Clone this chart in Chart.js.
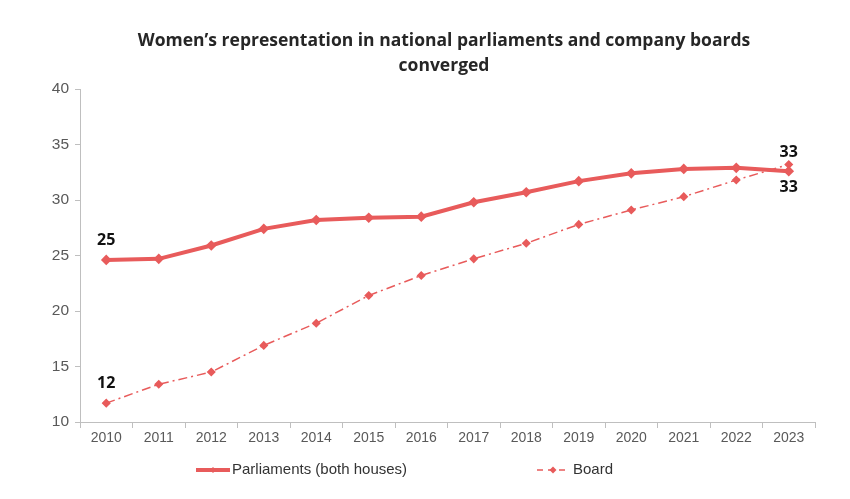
<!DOCTYPE html>
<html>
<head>
<meta charset="utf-8">
<script src="https://cdn.jsdelivr.net/npm/chart.js@4"></script>
<style>
  html, body { margin: 0; padding: 0; background: #fff; }
  #wrap { width: 850px; height: 499px; }
</style>
</head>
<body>
<div id="wrap"><canvas id="chart"></canvas></div>
<script>
const years = ["2010","2011","2012","2013","2014","2015","2016","2017","2018","2019","2020","2021","2022","2023"];

const parliaments = [24.6, 24.7, 25.9, 27.4, 28.2, 28.4, 28.5, 29.8, 30.7, 31.7, 32.4, 32.8, 32.9, 32.6];
const board = [11.7, 13.4, 14.5, 16.9, 18.9, 21.4, 23.2, 24.7, 26.1, 27.8, 29.1, 30.3, 31.8, 33.2];

const seriesNames = ["Parliaments (both houses)", "Board"];
const titleLines = ["Women\u2019s representation in national parliaments and company boards", "converged"];

// labels at first and last points: [dataset, index, text, dx, dy]
const callouts = [
    [0, 0, "25", 0, -20],
    [1, 0, "12", 0, -20],
    [1, 13, "33", 0, -12],
    [0, 13, "33", 0, 16]
];

const red = "#E85B5B";

// title is drawn by hand so it can sit off-centre like the original
const titlePlugin = {
    id: "manualTitle",
    afterDraw(chart) {
        const c = chart.ctx;
        c.save();
        c.font = "bold 17.5px 'Open Sans'";
        c.fillStyle = "#262626";
        c.textAlign = "center";
        c.textBaseline = "middle";
        c.fillText(titleLines[0], 444, 41);
        c.fillText(titleLines[1], 444, 66);
        c.restore();
    }
};

const calloutPlugin = {
    id: "callouts",
    afterDatasetsDraw(chart) {
        const c = chart.ctx;
        c.save();
        c.font = "bold 16px 'Open Sans'";
        c.fillStyle = "#111";
        c.textAlign = "center";
        c.textBaseline = "middle";
        callouts.forEach(([ds, i, txt, dx, dy]) => {
            const pt = chart.getDatasetMeta(ds).data[i];
            c.fillText(txt, pt.x + dx, pt.y + dy);
        });
        c.restore();
    }
};

const legendPlugin = {
    id: "bottomLegend",
    afterDraw(chart) {
        const c = chart.ctx;
        const y = 470;
        c.save();
        c.font = "15px 'Liberation Sans'";
        c.fillStyle = "#333";
        c.textBaseline = "middle";

        // Parliaments
        c.strokeStyle = red;
        c.lineWidth = 4;
        c.beginPath();
        c.moveTo(196, y);
        c.lineTo(230, y);
        c.stroke();
        diamond(c, 213, y, 3);
        c.fillText(seriesNames[0], 232, y);

        // Board
        c.lineWidth = 1.5;
        c.setLineDash([6, 5]);
        c.beginPath();
        c.moveTo(537, y);
        c.lineTo(565, y);
        c.stroke();
        c.setLineDash([]);
        diamond(c, 553, y, 3.5);
        c.fillText(seriesNames[1], 573, y);
        c.restore();
    }
};

function diamond(c, x, y, r) {
    c.fillStyle = red;
    c.beginPath();
    c.moveTo(x, y - r);
    c.lineTo(x + r, y);
    c.lineTo(x, y + r);
    c.lineTo(x - r, y);
    c.closePath();
    c.fill();
    c.fillStyle = "#333";
}

new Chart(document.getElementById("chart"), {
    type: "line",
    data: {
        labels: years,
        datasets: [
            {
                label: seriesNames[0],
                data: parliaments,
                borderColor: red,
                backgroundColor: red,
                borderWidth: 4,
                pointStyle: "rectRot",
                pointRadius: 2.5,
                tension: 0
            },
            {
                label: seriesNames[1],
                data: board,
                borderColor: red,
                backgroundColor: red,
                borderWidth: 1.5,
                borderDash: [9, 4, 2, 4],
                pointStyle: "rectRot",
                pointRadius: 3.5,
                tension: 0
            }
        ]
    },
    options: {
        responsive: true,
        maintainAspectRatio: false,
        animation: false,
        layout: { padding: { left: 0, right: 35, top: 89, bottom: 0 } },
        plugins: {
            legend: { display: false },
            tooltip: { enabled: false },
            title: { display: false }
        },
        scales: {
            x: {
                offset: true,
                grid: { offset: true, drawOnChartArea: false, drawTicks: true, tickLength: 6, color: "#bfbfbf" },
                border: { color: "#bfbfbf" },
                ticks: { color: "#595959", font: { family: "'Liberation Sans'", size: 14 }, padding: 2, maxRotation: 0 },
                afterFit(s) { s.height = 77; }
            },
            y: {
                min: 10,
                max: 40,
                ticks: { stepSize: 5, color: "#595959", font: { family: "'Liberation Sans'", size: 15.5 }, padding: 6 },
                grid: { drawOnChartArea: false, drawTicks: true, tickLength: 5, color: "#bfbfbf" },
                border: { color: "#bfbfbf" },
                afterFit(s) { s.width = 80; }
            }
        }
    },
    plugins: [titlePlugin, calloutPlugin, legendPlugin]
});
</script>
</body>
</html>
